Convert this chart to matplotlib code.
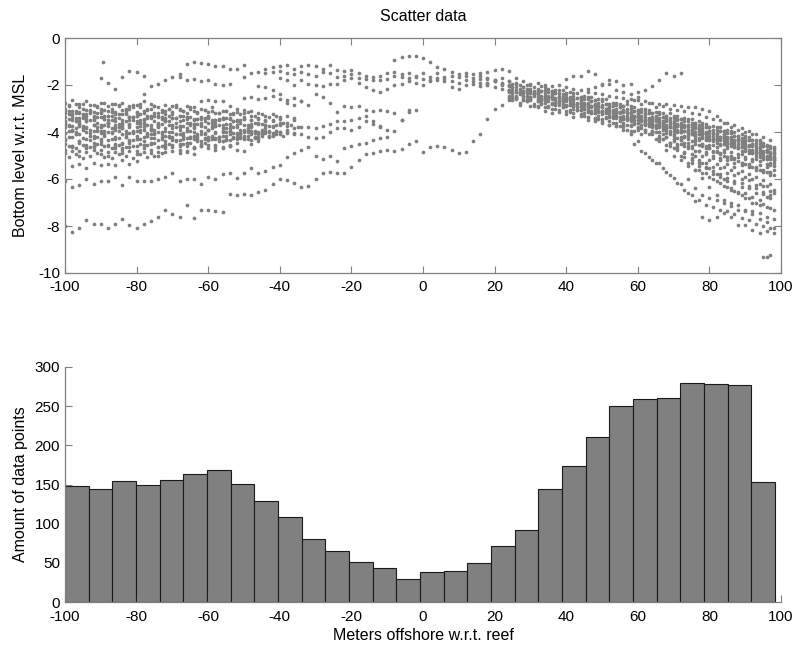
import numpy as np
import matplotlib
matplotlib.use("Agg")
import matplotlib.pyplot as plt

plt.rcParams['font.family'] = ['Liberation Sans', 'DejaVu Sans']
plt.rcParams['font.size'] = 11
plt.rcParams['axes.unicode_minus'] = False

# ---------------------------------------------------------------------------
# Survey transects: bottom level (m w.r.t. MSL) sampled every 2 m offshore.
# Each transect is (first offshore position, list of levels).
# ---------------------------------------------------------------------------
STEP = 2.0

# deep transects on the western side
track_a = (-100, [-8.0, -8.25, -8.1, -7.75, -7.9, -7.9, -8.1, -7.9, -7.7, -7.95, -8.1, -7.9, -7.8,
                  -7.6, -7.3, -7.5, -7.6, -7.1, -7.65, -7.3, -7.3, -7.35, -7.4, -6.65, -6.7, -6.65,
                  -6.7, -6.55, -6.45, -6.2, -6.0, -6.05, -6.15, -6.35, -6.3, -6.0, -5.75, -5.7,
                  -5.75, -5.75, -5.5, -5.2, -4.95, -4.9, -4.8, -4.78, -4.8, -4.73, -4.5, -4.4,
                  -4.85, -4.65, -4.6, -4.65, -4.78, -4.9, -4.85, -4.4, -4.1, -3.45, -3.0, -2.85,
                  -2.65, -2.55])
track_b = (-100, [-6.1, -6.35, -6.25, -6.0, -6.2, -6.1, -6.1, -5.9, -6.25, -5.9, -6.1, -6.1, -6.1,
                  -6.0, -5.9, -5.75, -6.1, -6.0, -6.0, -6.2, -5.9, -6.0, -5.8, -5.75, -5.95, -5.75,
                  -5.55, -5.75, -5.65, -5.47, -5.4, -5.05, -4.9, -4.75, -4.65, -5.0, -5.15, -5.0,
                  -5.25, -4.7, -4.6, -4.5, -4.45, -4.35, -4.25, -4.2, -3.95, -3.5, -3.15, -3.05])
track_d = (-50, [-2.55, -2.5, -2.6, -2.55, -2.45, -2.6, -2.75, -2.85, -2.7, -2.85, -2.4, -2.5, -2.75,
                 -3.15, -2.9, -2.95, -2.9, -3.05, -3.1, -3.05, -3.1, -3.2, -3.5, -3.05])

# dense western band
band_1 = (-100, [-2.75, -2.65, -2.8, -2.7, -2.85, -2.75, -2.9, -2.8, -2.75, -2.9, -2.85, -2.7, -2.8,
                 -2.95, -2.85, -2.9, -3.0, -2.9, -2.95, -2.7, -2.65, -2.7, -2.7, -2.9, -3.0, -3.05,
                 -3.1])
band_2 = (-100, [-3.0, -3.1, -2.95, -3.05, -3.15, -3.0, -3.1, -3.2, -3.05, -3.0, -3.15, -3.1, -3.0,
                 -3.2, -3.1, -3.15, -3.05, -3.2, -3.1, -3.0, -3.15, -3.2, -3.1, -3.25, -3.15, -3.2,
                 -3.3, -3.2, -3.3, -3.25, -3.35, -3.3, -3.4])
band_3 = (-100, [-3.35, -3.25, -3.4, -3.3, -3.45, -3.35, -3.3, -3.4, -3.5, -3.35, -3.3, -3.45, -3.4,
                 -3.35, -3.5, -3.4, -3.3, -3.45, -3.5, -3.4, -3.35, -3.5, -3.45, -3.4, -3.55, -3.45,
                 -3.5, -3.4, -3.55, -3.5, -3.45, -3.6, -3.5])
band_4 = (-100, [-3.6, -3.5, -3.65, -3.55, -3.5, -3.7, -3.6, -3.55, -3.65, -3.7, -3.55, -3.6, -3.7,
                 -3.65, -3.55, -3.7, -3.75, -3.6, -3.65, -3.7, -3.6, -3.75, -3.7, -3.65, -3.8, -3.7,
                 -3.75, -3.65, -3.7, -3.8, -3.7, -3.75, -3.85, -3.8, -3.8, -3.85, -3.75, -3.65,
                 -3.55, -3.55, -3.5, -3.4, -3.3, -3.55, -3.8, -3.9])
band_5 = (-100, [-3.8, -3.9, -3.75, -3.85, -3.95, -3.8, -3.75, -3.9, -3.85, -3.8, -3.95, -3.9, -3.85,
                 -3.8, -3.95, -4.0, -3.9, -3.85, -4.0, -3.95, -3.9, -4.05, -4.0, -3.95, -4.1, -4.0,
                 -3.95, -4.05, -4.0, -4.1, -4.0, -4.05, -4.1, -4.1, -4.2, -4.25, -4.2, -4.0, -3.85,
                 -3.85, -3.9, -3.8, -3.55, -3.65, -3.75])
band_6 = (-100, [-4.05, -3.95, -4.1, -4.0, -4.15, -4.05, -4.0, -4.2, -4.1, -4.05, -4.15, -4.2, -4.1,
                 -4.0, -4.15, -4.2, -4.1, -4.25, -4.15, -4.1, -4.2, -4.25, -4.15, -4.1, -4.2, -4.15,
                 -4.1, -4.2, -4.05, -4.15, -4.1, -4.0, -4.05])
band_7 = (-100, [-4.3, -4.2, -4.4, -4.3, -4.25, -4.4, -4.35, -4.3, -4.45, -4.35, -4.3, -4.4, -4.25,
                 -4.35, -4.4, -4.3, -4.35, -4.45, -4.3, -4.4, -4.35, -4.3, -4.4, -4.35, -4.3, -4.25,
                 -4.35, -4.3])
band_8 = (-100, [-4.5, -4.6, -4.45, -4.55, -4.65, -4.5, -4.55, -4.6, -4.5, -4.45, -4.6, -4.55, -4.5,
                 -4.65, -4.6, -4.55, -4.5, -4.6, -4.7, -4.6, -4.55, -4.65, -4.7, -4.6, -4.75, -4.8])
band_9 = (-100, [-4.9, -4.8, -5.0, -4.85, -4.75, -4.95, -5.0, -4.85, -4.9, -4.8, -4.95, -4.85, -4.9,
                 -5.0, -4.85, -4.8, -4.9, -4.85, -4.95])
band_10 = (-98, [-5.45, -5.35, -5.55, -5.3, -5.4, -5.35, -5.4, -5.2, -5.35, -5.25])
band_11 = (-99, [-3.45, -3.55, -3.4, -3.5, -3.6, -3.45, -3.5, -3.65, -3.55, -3.5, -3.6, -3.7, -3.55,
                 -3.65, -3.7, -3.6, -3.75, -3.7, -3.65, -3.8, -3.75, -3.7, -3.85, -3.8, -3.9, -3.85,
                 -3.95, -3.9, -4.0, -3.95])
band_12 = (-99, [-3.7, -3.85, -3.75, -3.9, -3.8, -3.95, -3.85, -3.8, -3.95, -4.0, -3.9, -4.05, -4.1,
                 -4.0, -4.15, -4.1, -4.05, -4.2, -4.15, -4.1, -4.25, -4.2, -4.15, -4.05, -4.1, -4.0,
                 -4.05, -4.1, -3.95, -4.0])
band_13 = (-99, [-3.1, -3.2, -3.25, -3.1, -3.2, -3.3, -3.15, -3.25, -3.2, -3.35, -3.25, -3.3, -3.2,
                 -3.35, -3.3, -3.4, -3.3, -3.35, -3.45, -3.4, -3.5, -3.45, -3.4, -3.55, -3.5])
band_14 = (-99, [-4.6, -4.7, -4.55, -4.65, -4.5, -4.6, -4.7, -4.55, -4.65, -4.6, -4.5, -4.55, -4.45,
                 -4.6, -4.5, -4.4, -4.5, -4.45, -4.35, -4.45, -4.3, -4.4, -4.35])
band_15 = (-99, [-2.9, -2.8, -3.0, -2.85, -2.95, -3.05, -2.8, -2.9, -3.0, -2.85, -2.95, -3.0, -2.9,
                 -3.05, -3.0, -2.95, -3.1, -3.0, -3.15, -3.05, -3.1, -3.2, -3.1, -3.2, -3.25, -3.15,
                 -3.3, -3.25, -3.35, -3.3])
band_16 = (-99, [-3.25, -3.4, -3.3, -3.2, -3.35, -3.45, -3.3, -3.4, -3.25, -3.35, -3.5, -3.4, -3.3,
                 -3.45, -3.55, -3.4, -3.5, -3.6, -3.45, -3.55, -3.6, -3.5, -3.65, -3.55, -3.6, -3.7,
                 -3.6, -3.65, -3.75, -3.7, -3.6, -3.7, -3.8])
band_17 = (-100, [-3.55, -3.75, -3.6, -3.45, -3.7, -3.8, -3.6, -3.7, -3.85, -3.65, -3.6, -3.8, -3.9,
                  -3.75, -3.85, -3.7, -3.8, -3.95, -3.85, -3.75, -3.9, -4.0, -3.85, -3.95, -4.05,
                  -3.9, -4.0, -4.1, -3.95, -4.05, -4.0, -3.9])
band_18 = (-99, [-4.2, -4.1, -4.25, -4.35, -4.2, -4.15, -4.3, -4.25, -4.2, -4.35, -4.3, -4.15, -4.25,
                 -4.3, -4.2, -4.35, -4.3, -4.25, -4.4, -4.3, -4.2, -4.3, -4.35, -4.25, -4.2, -4.3,
                 -4.25, -4.15, -4.2, -4.1, -4.15])
band_19 = (-100, [-4.75, -4.65, -4.8, -4.7, -4.6, -4.75, -4.85, -4.7, -4.75, -4.65, -4.8, -4.7, -4.75,
                  -4.85, -4.7, -4.65, -4.75, -4.8, -4.7, -4.6, -4.7, -4.75, -4.65, -4.55])
band_20 = (-99, [-5.05, -4.95, -5.1, -5.0, -4.9, -5.05, -5.1, -4.95, -5.0, -5.1, -4.95, -5.05, -5.0,
                 -4.9])
band_21 = (-99, [-3.95, -4.0, -3.9, -4.05, -3.95, -4.1, -4.0, -3.95, -4.1, -4.05, -4.0, -4.15, -4.05,
                 -4.1, -4.2, -4.1, -4.15, -4.2, -4.1, -4.25, -4.15, -4.2, -4.3, -4.2, -4.25, -4.15,
                 -4.2, -4.1, -4.15])
band_22 = (-100, [-3.2, -3.3, -3.15, -3.25, -3.35, -3.2, -3.3, -3.15, -3.25, -3.35, -3.3, -3.2, -3.35,
                  -3.3, -3.25, -3.4, -3.3, -3.35, -3.45, -3.35, -3.4, -3.5, -3.4, -3.45, -3.55,
                  -3.45, -3.5, -3.6, -3.5])
band_23 = (-100, [-3.1, -3.45, -3.2, -3.55, -3.3, -3.15, -3.5, -3.25, -3.6, -3.35, -3.2, -3.5, -3.3,
                  -3.6, -3.4, -3.25, -3.55, -3.35, -3.65, -3.45, -3.3, -3.6, -3.4, -3.7, -3.5, -3.35,
                  -3.65, -3.45, -3.7, -3.55, -3.6])
band_24 = (-99, [-3.75, -4.1, -3.85, -4.15, -3.9, -3.7, -4.05, -3.8, -4.2, -3.95, -3.75, -4.1, -3.9,
                 -4.2, -4.0, -3.8, -4.15, -3.95, -4.25, -4.05, -3.85, -4.2, -4.0, -4.25, -4.05, -3.9,
                 -4.2, -4.0, -4.15, -3.95])
band_25 = (-100, [-4.35, -4.6, -4.4, -4.65, -4.45, -4.3, -4.6, -4.5, -4.7, -4.4, -4.3, -4.55, -4.45,
                  -4.65, -4.5, -4.35, -4.6, -4.45, -4.65, -4.5, -4.35, -4.55, -4.4, -4.6, -4.45,
                  -4.3, -4.5, -4.4])
band_26 = (-99, [-2.85, -3.1, -2.8, -3.05, -2.9, -2.75, -3.0, -2.85, -3.1, -2.95, -2.8, -3.05, -2.9,
                 -3.15, -3.0, -2.85, -3.1, -2.95, -3.2, -3.05, -2.95, -3.2, -3.1, -3.25])
band_27 = (-100, [-3.65, -3.9, -3.55, -3.8, -3.7, -3.95, -3.6, -3.85, -3.75, -3.5, -3.8, -3.65, -3.9,
                  -3.7, -3.55, -3.85, -3.75, -3.95, -3.8, -3.6, -3.9, -3.75, -3.95, -3.85, -3.7,
                  -3.95, -3.8, -4.0, -3.85, -3.75])

# shallow transects over the reef flat
upper_1 = (-78, [-2.4, -2.05, -1.95, -1.8, -1.65, -1.55, -1.1, -1.0, -1.05, -1.1, -1.2, -1.2, -1.3,
                 -1.3, -1.15])
upper_2 = (-50, [-1.65, -1.5, -1.45, -1.5, -1.45, -1.2, -1.15, -1.3, -1.2, -1.15, -1.2, -1.3, -1.15,
                 -1.35, -1.4, -1.35, -1.5, -1.6, -1.8, -1.8, -1.75, -1.6, -1.65, -1.5, -1.65, -1.5,
                 -1.65, -1.5, -1.65, -1.6, -1.65, -1.5, -1.7, -1.75, -1.9, -1.8, -1.7, -1.85])
upper_3 = (-90, [-1.7, -1.9, -2.15, -1.65, -1.4, -1.45, -1.6])
upper_4 = (-68, [-1.65, -1.8, -1.75, -1.85, -1.8, -1.95, -2.0, -1.95])
upper_5 = (-46, [-2.05, -2.1, -2.2, -2.4, -2.65, -2.55, -2.7])
upper_6 = (-40, [-1.7, -1.8, -2.0, -1.8, -1.95, -2.0, -2.05, -1.95, -1.95, -1.8, -1.7, -1.9, -2.1,
                 -2.2, -2.3, -2.15, -2.0, -1.95, -1.85, -1.9, -2.0, -1.85, -1.8, -1.85, -2.1, -2.15,
                 -2.0, -1.95, -2.05, -2.0, -2.1, -2.15, -2.2])
upper_7 = (-44, [-1.3, -1.25, -1.4, -1.5, -1.55, -1.45, -1.55, -1.6, -1.45, -1.5, -1.65, -1.6, -1.55,
                 -1.7, -1.75, -1.65, -1.6, -1.5, -1.45, -1.55, -1.7, -1.6, -1.75, -1.8, -1.7, -1.75,
                 -1.85, -1.9, -1.8, -1.85, -1.9, -1.95, -1.85, -1.9, -2.0])
crest = (-8, [-0.95, -0.8, -0.75, -0.75, -0.85, -1.0, -1.25, -1.3, -1.45, -1.55, -1.6, -1.55, -1.5,
              -1.45, -1.35, -1.3, -1.4, -1.7])
single_x = [-89.3]
single_y = [-1.0]

# eastern slope band
slope_1 = (24, [-1.85, -1.9, -1.85, -1.95, -1.9, -2.0, -2.05, -2.0, -2.1, -2.15, -2.2, -2.3, -2.35,
                -2.4, -2.45, -2.5, -2.55, -2.6, -2.65, -2.7, -2.75, -2.8, -2.8, -2.85, -2.9, -2.95,
                -2.95, -3.0, -3.1, -3.3, -3.6, -3.8, -3.9, -4.0, -4.1, -4.35, -4.55, -4.75])
slope_2 = (18, [-1.75, -1.8, -1.95, -2.05, -2.1, -2.1, -2.15, -2.2, -2.2, -2.25, -2.35, -2.4, -2.45,
                -2.5, -2.6, -2.65, -2.7, -2.8, -2.85, -2.9, -3.0, -3.05, -3.1, -3.2, -3.25, -3.3,
                -3.4, -3.45, -3.55, -3.6, -3.7, -3.8, -3.9, -3.95, -4.05, -4.15, -4.25, -4.35, -4.5,
                -4.6, -4.7])
slope_3 = (16, [-1.6, -1.7, -1.85, -2.0, -2.2, -2.2, -2.25, -2.25, -2.3, -2.35, -2.4, -2.45, -2.5,
                -2.6, -2.65, -2.75, -2.8, -2.85, -2.95, -3.0, -3.05, -3.15, -3.2, -3.25, -3.35,
                -3.4, -3.45, -3.55, -3.6, -3.7, -3.75, -3.85, -3.95, -4.05, -4.1, -4.2, -4.3, -4.4,
                -4.5, -4.65, -4.75, -4.9])
slope_4 = (24, [-2.3, -2.3, -2.35, -2.35, -2.4, -2.45, -2.5, -2.55, -2.6, -2.7, -2.75, -2.85, -2.9,
                -2.95, -3.05, -3.1, -3.15, -3.25, -3.3, -3.35, -3.45, -3.5, -3.55, -3.65, -3.7, -3.8,
                -3.85, -3.95, -4.05, -4.15, -4.2, -4.3, -4.4, -4.5, -4.6, -4.75, -4.85, -5.0])
slope_5 = (28, [-2.45, -2.5, -2.5, -2.55, -2.6, -2.7, -2.7, -2.8, -2.9, -2.95, -3.0, -3.1, -3.15,
                -3.2, -3.3, -3.35, -3.4, -3.5, -3.55, -3.6, -3.7, -3.75, -3.8, -3.9, -4.0, -4.05,
                -4.15, -4.25, -4.3, -4.45, -4.5, -4.6, -4.75, -4.85, -5.0, -5.1])
slope_6 = (24, [-2.55, -2.6, -2.65, -2.65, -2.7, -2.75, -2.8, -2.85, -2.9, -3.0, -3.05, -3.15, -3.2,
                -3.25, -3.35, -3.4, -3.45, -3.55, -3.6, -3.65, -3.75, -3.8, -3.85, -3.95, -4.0, -4.1,
                -4.15, -4.25, -4.35, -4.45, -4.5, -4.6, -4.7, -4.8, -4.9, -5.05, -5.15, -5.3])
slope_7 = (30, [-2.9, -2.9, -2.95, -3.0, -3.05, -3.1, -3.2, -3.25, -3.35, -3.4, -3.45, -3.55, -3.6,
                -3.7, -3.75, -3.8, -3.9, -3.95, -4.0, -4.05, -4.15, -4.2, -4.3, -4.4, -4.5, -4.55,
                -4.65, -4.75, -4.85, -4.95, -5.05, -5.15, -5.25, -5.35, -5.45])
slope_8 = (25, [-2.15, -2.15, -2.2, -2.25, -2.25, -2.3, -2.35, -2.4, -2.5, -2.55, -2.6, -2.7, -2.75,
                -2.8, -2.9, -2.95, -3.0, -3.1, -3.15, -3.2, -3.3, -3.35, -3.4, -3.5, -3.55, -3.65,
                -3.7, -3.8, -3.9, -3.95, -4.05, -4.15, -4.25, -4.35, -4.45, -4.6, -4.7])
slope_9 = (33, [-2.65, -2.7, -2.75, -2.8, -2.85, -2.95, -3.0, -3.1, -3.15, -3.2, -3.3, -3.35, -3.4,
                -3.5, -3.55, -3.6, -3.7, -3.75, -3.8, -3.9, -3.95, -4.05, -4.1, -4.2, -4.3, -4.35,
                -4.45, -4.55, -4.65, -4.75, -4.85, -4.95, -5.1])
slope_10 = (25, [-2.3, -2.35, -2.35, -2.4, -2.45, -2.5, -2.55, -2.6, -2.65, -2.75, -2.8, -2.9, -2.95,
                 -3.0, -3.1, -3.15, -3.2, -3.3, -3.35, -3.4, -3.5, -3.55, -3.6, -3.65, -3.75, -3.8,
                 -3.9, -4.0, -4.1, -4.2, -4.25, -4.35, -4.45, -4.55, -4.7, -4.8, -4.95])
slope_11 = (24, [-2.2, -2.3, -2.25, -2.35, -2.3, -2.45, -2.4, -2.5, -2.6, -2.6, -2.75, -2.8, -2.8,
                 -2.95, -2.95, -3.1, -3.05, -3.2, -3.3, -3.25, -3.4, -3.5, -3.45, -3.6, -3.7, -3.7,
                 -3.85, -3.9, -3.95, -4.1, -4.15, -4.2, -4.35, -4.4, -4.55, -4.7, -4.75, -4.9])
slope_12 = (27, [-2.75, -2.7, -2.8, -2.75, -2.9, -2.85, -2.95, -3.05, -3.05, -3.2, -3.2, -3.3, -3.4,
                 -3.4, -3.55, -3.5, -3.65, -3.7, -3.75, -3.85, -3.9, -3.95, -4.0, -4.15, -4.1,
                 -4.25, -4.35, -4.4, -4.55, -4.6, -4.65, -4.8, -4.9, -5.0, -5.15, -5.3])
slope_13 = (32, [-2.95, -3.1, -3.2, -3.15, -3.25, -3.35, -3.3, -3.5, -3.55, -3.55, -3.7, -3.75, -3.8,
                 -3.95, -3.9, -4.0, -4.1, -4.15, -4.2, -4.3, -4.35, -4.45, -4.5, -4.6, -4.7, -4.8,
                 -4.85, -5.0, -5.05, -5.15, -5.25, -5.4, -5.5, -5.6])
slope_14 = (25, [-1.95, -2.0, -2.0, -2.1, -2.05, -2.15, -2.2, -2.2, -2.3, -2.35, -2.45, -2.5, -2.6,
                 -2.6, -2.75, -2.8, -2.8, -2.95, -3.0, -3.05, -3.15, -3.2, -3.2, -3.3, -3.4, -3.45,
                 -3.55, -3.65, -3.75, -3.8, -3.9, -4.0, -4.1, -4.2, -4.35, -4.45, -4.6])
slope_15 = (24, [-2.45, -2.55, -2.5, -2.6, -2.6, -2.65, -2.75, -2.7, -2.85, -2.9, -2.95, -3.1, -3.05,
                 -3.2, -3.25, -3.3, -3.4, -3.45, -3.5, -3.6, -3.6, -3.75, -3.75, -3.85, -3.9, -4.0,
                 -4.1, -4.1, -4.25, -4.35, -4.4, -4.5, -4.6, -4.7, -4.8, -4.95, -5.05, -5.2])
slope_16 = (25, [-2.4, -2.35, -2.45, -2.4, -2.55, -2.5, -2.65, -2.6, -2.75, -2.8, -2.9, -2.9, -3.05,
                 -3.0, -3.2, -3.15, -3.3, -3.3, -3.45, -3.45, -3.55, -3.6, -3.65, -3.75, -3.8, -3.9,
                 -3.95, -4.05, -4.15, -4.2, -4.35, -4.4, -4.5, -4.6, -4.75, -4.85, -5.0])
slope_17 = (25, [-2.1, -2.3, -2.15, -2.35, -2.25, -2.45, -2.35, -2.5, -2.6, -2.55, -2.75, -2.7, -2.9,
                 -2.8, -3.05, -2.95, -3.15, -3.1, -3.3, -3.2, -3.45, -3.35, -3.55, -3.45, -3.7, -3.6,
                 -3.85, -3.8, -4.05, -3.95, -4.2, -4.15, -4.4, -4.35, -4.6, -4.6, -4.85])
slope_18 = (25, [-2.5, -2.4, -2.6, -2.45, -2.65, -2.55, -2.75, -2.7, -2.85, -2.8, -3.0, -2.95, -3.15,
                 -3.1, -3.3, -3.2, -3.45, -3.35, -3.55, -3.5, -3.7, -3.6, -3.8, -3.75, -3.95, -3.9,
                 -4.1, -4.1, -4.3, -4.25, -4.45, -4.45, -4.65, -4.6, -4.9, -4.85, -5.15])
slope_19 = (25, [-2.65, -2.85, -2.7, -2.9, -2.8, -2.95, -3.0, -2.95, -3.15, -3.05, -3.3, -3.2, -3.45,
                 -3.35, -3.6, -3.5, -3.7, -3.6, -3.85, -3.7, -4.0, -3.85, -4.1, -3.95, -4.2, -4.1,
                 -4.35, -4.3, -4.55, -4.5, -4.7, -4.65, -4.95, -4.8, -5.15, -5.05, -5.4])
slope_20 = (24, [-2.0, -1.95, -2.1, -2.0, -2.15, -2.1, -2.25, -2.2, -2.35, -2.35, -2.5, -2.5, -2.65,
                 -2.6, -2.8, -2.75, -2.9, -2.9, -3.05, -3.0, -3.2, -3.15, -3.3, -3.3, -3.45, -3.45,
                 -3.6, -3.6, -3.8, -3.8, -3.95, -3.95, -4.15, -4.15, -4.35, -4.4, -4.6, -4.65])
slope_21 = (24, [-2.25, -2.45, -2.3, -2.5, -2.35, -2.55, -2.45, -2.7, -2.55, -2.8, -2.7, -2.95, -2.85,
                 -3.1, -2.95, -3.2, -3.1, -3.35, -3.25, -3.5, -3.35, -3.6, -3.5, -3.75, -3.65, -3.9,
                 -3.8, -4.05, -3.95, -4.25, -4.1, -4.4, -4.3, -4.6, -4.5, -4.85, -4.75, -5.1])
slope_22 = (26, [-2.5, -2.65, -2.55, -2.7, -2.65, -2.8, -2.75, -2.9, -2.9, -3.05, -3.05, -3.2, -3.15,
                 -3.35, -3.3, -3.45, -3.45, -3.6, -3.55, -3.75, -3.7, -3.85, -3.85, -4.0, -4.0,
                 -4.15, -4.15, -4.35, -4.35, -4.5, -4.5, -4.7, -4.7, -4.9, -4.95, -5.15, -5.2])
slope_23 = (55, [-3.75, -3.9, -3.95, -4.1, -4.1, -4.3, -4.3, -4.45, -4.5, -4.6, -4.7, -4.8, -4.85,
                 -5.0, -5.1, -5.2, -5.3, -5.4, -5.5, -5.6, -5.7, -5.85])
slope_24 = (57, [-2.7, -2.65, -2.8, -2.75, -2.95, -2.9, -3.0, -3.05, -3.1, -3.2, -3.25, -3.35, -3.45,
                 -3.5, -3.6, -3.7, -3.85, -3.95, -4.1, -4.2, -4.35])

# diverging transects down the fore-reef
fan_1 = (46, [-3.35, -3.45, -3.6, -3.7, -3.75, -3.9, -4.1, -4.4, -4.9, -5.2, -5.3, -5.7, -5.95, -6.2,
              -6.6, -6.95, -7.6, -7.75, -7.6, -7.45, -7.6, -7.95, -7.95, -8.15, -8.3, -8.2, -8.3])
fan_2 = (56, [-3.6, -3.7, -3.85, -3.9, -3.95, -4.25, -4.55, -4.7, -5.0, -5.3, -5.6, -5.95, -6.35,
              -6.7, -6.9, -7.0, -7.1, -7.3, -7.35, -7.45, -7.6, -7.7])
fan_3 = (60, [-3.5, -3.6, -3.8, -4.0, -4.2, -4.4, -4.5, -4.7, -5.0, -5.3, -5.55, -5.8, -6.0, -6.4,
              -6.55, -6.6, -6.75, -6.9, -6.75, -6.6])
fan_4 = (64, [-3.65, -3.75, -3.9, -4.1, -4.35, -4.6, -4.8, -5.0, -5.2, -5.35, -5.5, -5.6, -5.75,
              -5.9, -6.0, -6.2, -6.3, -6.45])
fan_5 = (68, [-3.75, -3.85, -4.0, -4.15, -4.3, -4.5, -4.7, -4.85, -5.0, -5.15, -5.25, -5.35, -5.5,
              -5.6, -5.7, -5.85])
fan_6 = (74, [-6.0, -6.4, -6.7, -6.8, -6.9, -7.0, -7.15, -7.3, -7.35, -7.5, -7.7, -7.85, -8.1])
fan_7 = (62, [-3.7, -4.0, -4.4, -4.75, -5.0, -5.2, -5.45, -5.6, -5.75, -5.9, -6.1, -6.3, -6.45,
              -6.6, -6.8, -7.0, -7.1, -7.2, -7.3])
fan_8 = (65, [-3.8, -4.1, -4.45, -4.7, -4.9, -5.1, -5.3, -5.5, -5.65, -5.8, -5.95, -6.1, -6.15,
              -6.3, -6.4, -6.55, -6.7])
fan_9 = (69, [-4.0, -4.25, -4.45, -4.6, -4.8, -4.95, -5.1, -5.2, -5.35, -5.5, -5.65, -5.8, -5.9,
              -6.05, -6.2])
fan_10 = (59, [-4.5, -4.8, -5.05, -5.3, -5.55, -5.85, -6.15, -6.45, -6.7, -6.9, -7.1, -7.2, -7.3,
               -7.35, -7.5, -7.65, -7.75, -7.9, -8.0, -8.1])
fan_11 = (73, [-4.2, -4.4, -4.55, -4.7, -4.85, -4.95, -5.05, -5.15, -5.3, -5.4, -5.55, -5.65, -5.75])
fan_12 = (67, [-4.3, -4.6, -4.75, -5.05, -5.2, -5.45, -5.55, -5.8, -5.9, -6.1, -6.15, -6.35, -6.4,
               -6.6, -6.65, -6.8])
fan_13 = (71, [-4.6, -4.85, -4.95, -5.2, -5.3, -5.5, -5.55, -5.75, -5.85, -6.0, -6.05, -6.25, -6.3,
               -6.5])
fan_14 = (75, [-5.3, -5.6, -5.75, -6.0, -6.15, -6.35, -6.5, -6.7, -6.8, -7.0, -7.05, -7.25])
fan_15 = (79, [-4.6, -4.8, -4.9, -5.05, -5.1, -5.3, -5.35, -5.5, -5.6, -5.7])
deep_x = [95, 96, 97]
deep_y = [-9.3, -9.3, -9.25]

# shallow transects above the eastern slope
east_1 = (40, [-1.75, -1.6, -1.6, -1.4, -1.55, -1.95, -1.8, -1.85, -2.0, -1.95, -2.3, -2.2, -2.05,
               -1.8, -1.5, -1.6, -1.5])
east_2 = (46, [-2.15, -2.1, -2.0, -1.95, -2.2, -2.3, -2.4, -2.5])

transects = [track_a, track_b, track_d,
             band_1, band_2, band_3, band_4, band_5, band_6, band_7, band_8, band_9, band_10,
             band_11, band_12, band_13, band_14, band_15, band_16, band_17, band_18, band_19,
             band_20, band_21, band_22, band_23, band_24, band_25, band_26, band_27,
             upper_1, upper_2, upper_3, upper_4, upper_5, upper_6, upper_7, crest,
             slope_1, slope_2, slope_3, slope_4, slope_5, slope_6, slope_7, slope_8, slope_9,
             slope_10, slope_11, slope_12, slope_13, slope_14, slope_15, slope_16, slope_17,
             slope_18, slope_19, slope_20, slope_21, slope_22, slope_23, slope_24,
             fan_1, fan_2, fan_3, fan_4, fan_5, fan_6, fan_7, fan_8, fan_9, fan_10, fan_11,
             fan_12, fan_13, fan_14, fan_15, east_1, east_2]

# Number of data points per 6.6 m bin, from -100 m to 98.3 m offshore
bin_counts = [148, 144, 154, 149, 156, 164, 169, 151, 129, 109, 81, 65, 51, 44, 30,
              38, 39, 50, 71, 92, 144, 173, 211, 250, 259, 261, 279, 278, 277, 153]
bin_lo, bin_hi = -100.0, 98.3

# ---------------------------------------------------------------------------
xs, ys = [], []
for x0, levels in transects:
    xs.append(x0 + STEP * np.arange(len(levels)))
    ys.append(np.asarray(levels))
xs.append(np.asarray(single_x)); ys.append(np.asarray(single_y))
xs.append(np.asarray(deep_x, float)); ys.append(np.asarray(deep_y))
x_all = np.concatenate(xs)
y_all = np.concatenate(ys)

W, H = 798, 649
fig = plt.figure(figsize=(W / 100, H / 100), dpi=100)
ax1 = fig.add_axes([65 / W, 1 - 273 / H, 716 / W, 235 / H])
ax2 = fig.add_axes([65 / W, 1 - 602 / H, 716 / W, 235 / H])

axis_grey = '#808080'
dot_grey = '#7f7f7f'
label_size = 11.5

# --- scatter panel ---
ax1.scatter(x_all, y_all, s=7, c=dot_grey, linewidths=0, marker='o')
ax1.set_xlim(-100, 100)
ax1.set_ylim(-10, 0)
ax1.set_xticks(np.arange(-100, 101, 20))
ax1.set_yticks(np.arange(-10, 1, 2))
ax1.set_title('Scatter data', fontsize=label_size, pad=12)
ax1.set_ylabel('Bottom level w.r.t. MSL', fontsize=label_size)
ax1.yaxis.set_label_coords(-0.052, 0.5)
ax1.tick_params(direction='in', length=4.8, width=0.8, color=axis_grey,
                top=True, right=True, labelsize=11)
ax1.tick_params(axis='x', pad=5)
ax1.tick_params(axis='y', pad=3.5)
for sp in ax1.spines.values():
    sp.set_color(axis_grey)
    sp.set_linewidth(0.9)

# --- histogram panel ---
edges = np.linspace(bin_lo, bin_hi, len(bin_counts) + 1)
ax2.bar(edges[:-1], bin_counts, width=np.diff(edges), align='edge',
        color='#808080', edgecolor='#1a1a1a', linewidth=0.8)
ax2.set_xlim(-100, 100)
ax2.set_ylim(0, 300)
ax2.set_xticks(np.arange(-100, 101, 20))
ax2.set_yticks(np.arange(0, 301, 50))
ax2.set_ylabel('Amount of data points', fontsize=label_size)
ax2.yaxis.set_label_coords(-0.052, 0.5)
ax2.set_xlabel('Meters offshore w.r.t. reef', fontsize=label_size)
ax2.xaxis.set_label_coords(0.5, -0.11)
ax2.tick_params(direction='in', length=4.8, width=0.8, color=axis_grey, labelsize=11)
ax2.tick_params(axis='x', pad=5.5)
ax2.tick_params(axis='y', pad=3.5)
ax2.spines['top'].set_visible(False)
ax2.spines['right'].set_visible(False)
for sp in ('left', 'bottom'):
    ax2.spines[sp].set_color(axis_grey)
    ax2.spines[sp].set_linewidth(0.9)

fig.savefig('out.png', dpi=100)
